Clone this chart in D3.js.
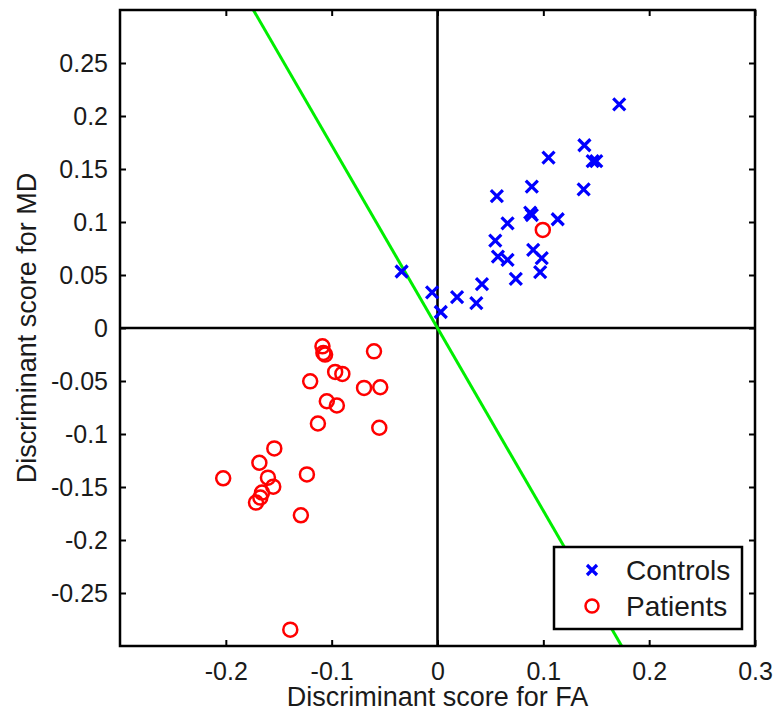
<!DOCTYPE html>
<html>
<head>
<meta charset="utf-8">
<script src="https://cdn.jsdelivr.net/npm/d3@7"></script>
<style>
  html, body { margin: 0; padding: 0; background: #fff; }
  svg { display: block; font-family: "Liberation Sans", Arial, Helvetica, sans-serif; }
</style>
</head>
<body>
<svg id="chart" width="779" height="713"></svg>
<script>
// ---- Data ----
const controlsFA = [0.1717, 0.1388, 0.1049, 0.1466, 0.1500, 0.0891, 0.1381, 0.0561, 0.0876, 0.0891,
                    0.1136, 0.0662, 0.0546, 0.0904, 0.0571, 0.0662, 0.0985, 0.0970, 0.0740, -0.0339,
                    0.0420, -0.0051, 0.0185, 0.0367, 0.0031];
const controlsMD = [0.2110, 0.1724, 0.1607, 0.1575, 0.1575, 0.1333, 0.1308, 0.1245, 0.1088, 0.1066,
                    0.1026, 0.0988, 0.0825, 0.0737, 0.0674, 0.0643, 0.0659, 0.0527, 0.0464, 0.0533,
                    0.0414, 0.0335, 0.0292, 0.0235, 0.0151];
const patientsFA = [-0.1087, -0.1062, -0.1078, -0.0600, -0.0967, -0.0899, -0.1203, -0.0694, -0.0541, -0.1046,
                    -0.0951, -0.1130, -0.0550, -0.1542, -0.1683, -0.2025, -0.1234, -0.1602, -0.1552, -0.1658,
                    -0.1674, -0.1715, -0.1291, -0.1391, 0.0995];
const patientsMD = [-0.0173, -0.0251, -0.0235, -0.0220, -0.0414, -0.0433, -0.0503, -0.0565, -0.0559, -0.0691,
                    -0.0731, -0.0901, -0.0941, -0.1136, -0.1271, -0.1418, -0.1381, -0.1412, -0.1497, -0.1553,
                    -0.1600, -0.1647, -0.1767, -0.2846, 0.0925];
const boundaryFA = [-0.174, 0.174];
const boundaryMD = [0.3, -0.3];
const xTicks = [-0.2, -0.1, 0, 0.1, 0.2, 0.3];
const yTicks = [-0.25, -0.2, -0.15, -0.1, -0.05, 0, 0.05, 0.1, 0.15, 0.2, 0.25];
const xDomain = [-0.3, 0.3];
const yDomain = [-0.3, 0.3];
const legendLabels = ["Controls", "Patients"];
const xLabel = "Discriminant score for FA";
const yLabel = "Discriminant score for MD";

// ---- Layout ----
const L = 120, R = 755, T = 10, B = 646;
const svg = d3.select("#chart");
const x = d3.scaleLinear().domain(xDomain).range([L, R]);
const y = d3.scaleLinear().domain(yDomain).range([B, T]);
const textColor = "#1a1a1a";
const fmt = d => String(+d.toFixed(2));

// clip
svg.append("defs").append("clipPath").attr("id", "clip")
  .append("rect").attr("x", L).attr("y", T).attr("width", R - L).attr("height", B - T);

const plot = svg.append("g").attr("clip-path", "url(#clip)");

// zero lines
plot.append("line").attr("x1", x(0)).attr("x2", x(0)).attr("y1", T).attr("y2", B)
  .attr("stroke", "#000").attr("stroke-width", 2.6);
plot.append("line").attr("x1", L).attr("x2", R).attr("y1", y(0)).attr("y2", y(0))
  .attr("stroke", "#000").attr("stroke-width", 2.6);

// boundary line
plot.append("path")
  .datum(boundaryFA.map((v, i) => [v, boundaryMD[i]]))
  .attr("d", d3.line().x(d => x(d[0])).y(d => y(d[1])))
  .attr("fill", "none").attr("stroke", "#00ee00").attr("stroke-width", 3);

// controls (x markers)
const xs = 6;
const crossPath = `M${-xs},${-xs}L${xs},${xs}M${-xs},${xs}L${xs},${-xs}`;
plot.selectAll(".ctrl").data(controlsFA.map((v, i) => [v, controlsMD[i]]))
  .enter().append("path").attr("class", "ctrl")
  .attr("transform", d => `translate(${x(d[0])},${y(d[1])})`)
  .attr("d", crossPath).attr("stroke", "#0000ff").attr("stroke-width", 3.2).attr("fill", "none");

// patients (circles)
plot.selectAll(".pat").data(patientsFA.map((v, i) => [v, patientsMD[i]]))
  .enter().append("circle").attr("class", "pat")
  .attr("cx", d => x(d[0])).attr("cy", d => y(d[1])).attr("r", 7)
  .attr("fill", "none").attr("stroke", "#ff0000").attr("stroke-width", 2.5);

// axes (ticks inward, box)
const tickLen = 6;
const axB = d3.axisBottom(x).tickValues(xTicks).tickSize(-tickLen).tickPadding(16).tickFormat(fmt);
const axT = d3.axisTop(x).tickValues(xTicks).tickSize(-tickLen).tickFormat("");
const axLft = d3.axisLeft(y).tickValues(yTicks).tickSize(-tickLen).tickPadding(12).tickFormat(fmt);
const axRt = d3.axisRight(y).tickValues(yTicks).tickSize(-tickLen).tickFormat("");

function style(g) {
  g.select(".domain").remove();
  g.selectAll(".tick line").attr("stroke", "#000").attr("stroke-width", 2);
  g.selectAll(".tick text").attr("fill", textColor).style("font-size", "25px")
    .style("font-family", "'Liberation Sans', Arial, sans-serif");
}
svg.append("g").attr("transform", `translate(0,${B})`).call(axB).call(style);
svg.append("g").attr("transform", `translate(0,${T})`).call(axT).call(style);
svg.append("g").attr("transform", `translate(${L},0)`).call(axLft).call(style);
svg.append("g").attr("transform", `translate(${R},0)`).call(axRt).call(style);

// box
svg.append("rect").attr("x", L).attr("y", T).attr("width", R - L).attr("height", B - T)
  .attr("fill", "none").attr("stroke", "#000").attr("stroke-width", 2.5);

// axis labels
svg.append("text").attr("x", (L + R) / 2).attr("y", 706).attr("text-anchor", "middle")
  .attr("fill", textColor).style("font-size", "27px").text(xLabel);
svg.append("text").attr("transform", `translate(36,${(T + B) / 2}) rotate(-90)`)
  .attr("text-anchor", "middle").attr("fill", textColor).style("font-size", "27px").text(yLabel);

// legend
const lg = svg.append("g");
lg.append("rect").attr("x", 554).attr("y", 547).attr("width", 188).attr("height", 82)
  .attr("fill", "#fff").attr("stroke", "#000").attr("stroke-width", 2.5);
const legendY = [570, 606];
lg.append("path").attr("transform", `translate(592,${legendY[0]})`)
  .attr("d", `M-5,-5L5,5M-5,5L5,-5`).attr("stroke", "#0000ff").attr("stroke-width", 3.2);
lg.append("circle").attr("cx", 592).attr("cy", legendY[1]).attr("r", 6.5)
  .attr("fill", "none").attr("stroke", "#ff0000").attr("stroke-width", 2.5);
legendLabels.forEach((t, i) => {
  lg.append("text").attr("x", 626).attr("y", legendY[i] + 10).attr("fill", textColor)
    .style("font-size", "28px").text(t);
});
</script>
</body>
</html>
